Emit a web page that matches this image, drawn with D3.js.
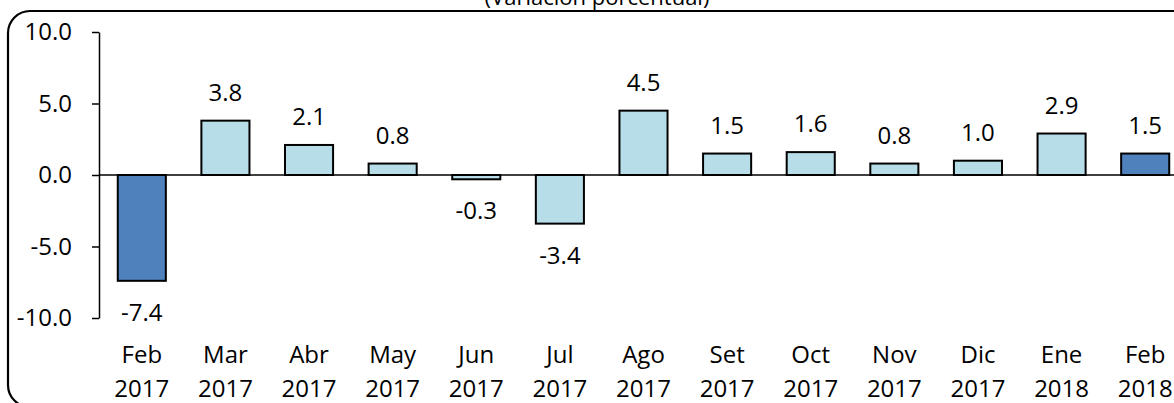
<!DOCTYPE html>
<html>
<head>
<meta charset="utf-8">
<script src="https://cdn.jsdelivr.net/npm/d3@7"></script>
<style>
  body { margin: 0; background: #fff; }
  text { font-family: "Open Sans", sans-serif; fill: #000; }
</style>
</head>
<body>
<div id="chart"></div>
<script>
// data
var months = ['Feb', 'Mar', 'Abr', 'May', 'Jun', 'Jul', 'Ago', 'Set', 'Oct', 'Nov', 'Dic', 'Ene', 'Feb'];
var years = ['2017', '2017', '2017', '2017', '2017', '2017', '2017', '2017', '2017', '2017', '2017', '2018', '2018'];
var values = [-7.4, 3.8, 2.1, 0.8, -0.3, -3.4, 4.5, 1.5, 1.6, 0.8, 1.0, 2.9, 1.5];
var highlighted = [true, false, false, false, false, false, false, false, false, false, false, false, true];
var yTicks = [-10, -5, 0, 5, 10];
var title = '(Variación porcentual)';

function plotChart() {
  let width = 1174;
  let height = 403;

  let svg = d3.select('#chart')
    .append('svg')
    .attr('width', width)
    .attr('height', height);

  // frame with rounded corners (runs off the right and bottom edges)
  svg.append('rect')
    .attr('x', 8)
    .attr('y', 11)
    .attr('width', 1200)
    .attr('height', 396)
    .attr('rx', 22)
    .attr('fill', 'none')
    .attr('stroke', '#000')
    .attr('stroke-width', 2.2);

  // title sits mostly above the top edge, as in the original
  svg.append('text')
    .attr('x', 597)
    .attr('y', 5)
    .attr('text-anchor', 'middle')
    .style('font-size', '22px')
    .text(title);

  let keys = d3.range(values.length);
  let data = keys.map(i => ({ i: i, v: values[i], m: months[i], yr: years[i], hi: highlighted[i] }));

  let x = d3.scaleBand()
    .domain(keys)
    .range([100, 1187])
    .paddingInner(0.425)
    .paddingOuter(0.2125);

  let y = d3.scaleLinear()
    .domain([-10, 10])
    .range([318, 32]);

  // y axis
  let yAxis = svg.append('g')
    .attr('transform', 'translate(99,0)')
    .call(d3.axisLeft(y)
      .tickValues(yTicks)
      .tickFormat(d => d.toFixed(1))
      .tickSize(7)
      .tickSizeOuter(0)
      .tickPadding(20));
  yAxis.select('.domain').attr('stroke-width', 1.5);
  yAxis.selectAll('.tick line').attr('stroke-width', 1.5);
  yAxis.selectAll('.tick text')
    .style('font-size', '24px')
    .style('font-family', '"Open Sans", sans-serif');

  // bars
  svg.selectAll('rect.bar')
    .data(data)
    .enter()
    .append('rect')
    .attr('class', 'bar')
    .attr('x', d => x(d.i))
    .attr('width', x.bandwidth())
    .attr('y', d => y(Math.max(0, d.v)))
    .attr('height', d => Math.abs(y(d.v) - y(0)))
    .attr('fill', d => d.hi ? '#4f81bd' : '#b7dde8')
    .attr('stroke', '#000')
    .attr('stroke-width', 2);

  // zero line
  svg.append('line')
    .attr('x1', 99)
    .attr('x2', width)
    .attr('y1', y(0))
    .attr('y2', y(0))
    .attr('stroke', '#000')
    .attr('stroke-width', 1.5);

  // value labels
  svg.selectAll('text.val')
    .data(data)
    .enter()
    .append('text')
    .attr('class', 'val')
    .attr('x', d => x(d.i) + x.bandwidth() / 2)
    .attr('y', d => d.v >= 0 ? y(d.v) - 20 : y(d.v) + 40)
    .attr('text-anchor', 'middle')
    .style('font-size', '24px')
    .text(d => d.v.toFixed(1));

  // category labels, two lines
  let cat = svg.selectAll('text.cat')
    .data(data)
    .enter()
    .append('text')
    .attr('class', 'cat')
    .attr('text-anchor', 'middle')
    .style('font-size', '24px');
  cat.append('tspan')
    .attr('x', d => x(d.i) + x.bandwidth() / 2)
    .attr('y', 363)
    .text(d => d.m);
  cat.append('tspan')
    .attr('x', d => x(d.i) + x.bandwidth() / 2)
    .attr('y', 397)
    .text(d => d.yr);
}
plotChart();
</script>
</body>
</html>
